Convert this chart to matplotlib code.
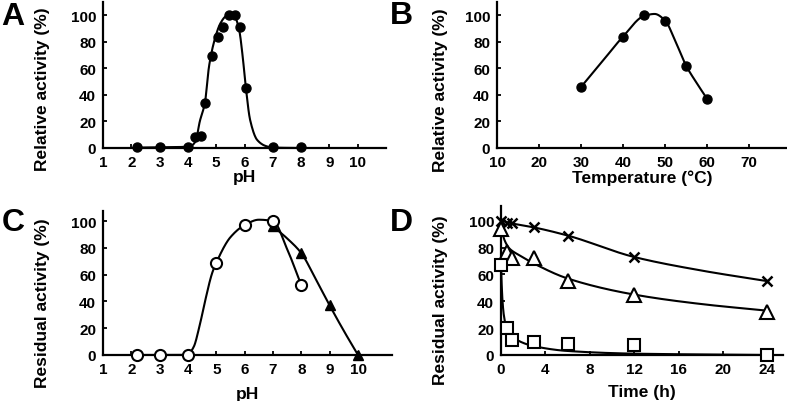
import numpy as np
import matplotlib
matplotlib.use("Agg")
import matplotlib.pyplot as plt

plt.rcParams['font.family'] = ['Liberation Sans', 'DejaVu Sans']
plt.rcParams['font.weight'] = 'bold'

# --- A: pH profile (relative activity) ---
a_ph = [2.2, 3, 4, 4.25, 4.45, 4.6, 4.85, 5.05, 5.25, 5.45, 5.65, 5.85, 6.05, 7, 8]
a_act = [0.5, 0.5, 0.5, 8, 9, 34, 69, 84, 91, 100.5, 100, 91, 45, 0.5, 0.5]
a_fit_x = [2.2, 3, 3.8, 4.1, 4.27, 4.42, 4.6, 4.75, 4.95, 5.15, 5.35, 5.52, 5.68, 5.82, 5.93, 6.05, 6.2, 6.45, 6.75, 7.0, 8.0]
a_fit_y = [0.3, 0.5, 0.8, 1.5, 5, 20, 34, 62, 82, 94, 99.5, 101, 98, 88, 70, 45, 21, 6, 1.5, 0.3, 0]

# --- B: temperature profile ---
b_temp = [30, 40, 45, 50, 55, 60]
b_act = [46, 84, 100, 95.5, 62, 37]
b_fit_x = [30, 35, 40, 45, 47.5, 50, 52.5, 55, 57.5, 60]
b_fit_y = [46, 65, 84, 99.5, 101, 96, 80, 62, 49, 37]

# --- C: pH stability (residual activity) ---
c_ph_open = [2.2, 3, 4, 5, 6, 7, 8]
c_res_open = [0, 0, 0, 69, 97, 100, 52]
c_ph_tri = [7, 8, 9, 10]
c_res_tri = [96, 76, 37, 0]
c_fit_x = [2.2, 3, 3.8, 4.0, 4.2, 4.4, 4.6, 4.85, 5.0, 5.5, 6.0, 6.5, 7.0, 7.5, 8.0]
c_fit_y = [0, 0, 0, 0.5, 6, 21, 40, 61, 69, 88, 97, 101, 100, 79, 52]
c_tri_fit_x = [7, 7.5, 8, 8.5, 9, 9.5, 10]
c_tri_fit_y = [96, 87, 76, 57, 37, 18, 0]

# --- D: thermal stability over time ---
d_time = [0, 0.5, 1, 3, 6, 12, 24]
d_cross = [100, 98, 98, 95.5, 89, 73, 55.5]
d_tri = [94, 77, 72, 72.5, 55.5, 45, 32]
d_sq = [67, 20, 11, 10, 8.5, 7.5, 0]
d_cross_fit_x = [0, 1, 3, 6, 12, 18, 24]
d_cross_fit_y = [100, 98, 95, 89, 73, 63, 55]
d_tri_fit_x = [0, 0.15, 0.4, 0.8, 1.5, 3, 6, 12, 18, 24]
d_tri_fit_y = [97, 90, 84, 79, 75, 68, 57, 45, 38, 33]
d_sq_fit_x = [0, 0.1, 0.25, 0.5, 1, 2, 3, 6, 12, 24]
d_sq_fit_y = [67, 45, 30, 20, 14, 9, 6.5, 3, 1, 0]


def pchip(x, y, n=400):
    x = np.asarray(x, float); y = np.asarray(y, float)
    h = np.diff(x); d = np.diff(y) / h
    m = np.zeros_like(y)
    m[0], m[-1] = d[0], d[-1]
    for k in range(1, len(x) - 1):
        if d[k - 1] * d[k] > 0:
            w1 = 2 * h[k] + h[k - 1]; w2 = h[k] + 2 * h[k - 1]
            m[k] = (w1 + w2) / (w1 / d[k - 1] + w2 / d[k])
    xs = np.linspace(x[0], x[-1], n)
    i = np.clip(np.searchsorted(x, xs) - 1, 0, len(x) - 2)
    t = (xs - x[i]) / h[i]
    h00 = 2*t**3 - 3*t**2 + 1; h10 = t**3 - 2*t**2 + t
    h01 = -2*t**3 + 3*t**2; h11 = t**3 - t**2
    ys = h00*y[i] + h10*h[i]*m[i] + h01*y[i+1] + h11*h[i]*m[i+1]
    return xs, ys


def style(ax, xlim, xticks, ylim):
    ax.set_xlim(*xlim); ax.set_ylim(*ylim)
    ax.set_xticks(xticks); ax.set_yticks([0, 20, 40, 60, 80, 100])
    for s in ['top', 'right']:
        ax.spines[s].set_visible(False)
    for s in ['left', 'bottom']:
        ax.spines[s].set_linewidth(1.6)
    ax.tick_params(direction='in', length=3, width=1.3, labelsize=11)
    ax.tick_params(axis='x', pad=5)
    ax.tick_params(axis='y', pad=5)
    for lab in ax.get_xticklabels() + ax.get_yticklabels():
        lab.set_fontweight('bold')


fig = plt.figure(figsize=(7.87, 4.02), dpi=100)
W, H = 787, 402
def box(l, t, r, b):
    return [l / W, (H - b) / H, (r - l) / W, (b - t) / H]

axA = fig.add_axes(box(103, 3, 386, 149))
axB = fig.add_axes(box(497, 3, 787, 149))
axC = fig.add_axes(box(103, 212, 392, 356))
axD = fig.add_axes(box(501, 207, 783, 356))

lw = 1.5
lab_fs = 12.5
# A
axA.plot(*pchip(a_fit_x, a_fit_y), color='black', lw=lw)
axA.plot(a_ph, a_act, 'o', color='black', ms=6.5, clip_on=False)
style(axA, (1, 11), range(1, 11), (0, 110))
axA.set_xlabel('pH', fontsize=lab_fs, fontweight='bold', labelpad=0)
axA.set_ylabel('Relative activity (%)', fontsize=lab_fs, fontweight='bold')
axA.yaxis.set_label_coords(-0.187, 0.41)

# B
axB.plot(*pchip(b_fit_x, b_fit_y), color='black', lw=lw)
axB.plot(b_temp, b_act, 'o', color='black', ms=6.5, clip_on=False)
style(axB, (10, 79), range(10, 80, 10), (0, 110))
axB.set_xlabel('Temperature (°C)', fontsize=lab_fs, fontweight='bold', labelpad=0)
axB.set_ylabel('Relative activity (%)', fontsize=lab_fs, fontweight='bold')
axB.yaxis.set_label_coords(-0.169, 0.40)

# C
axC.plot(*pchip(c_fit_x, c_fit_y), color='black', lw=lw)
axC.plot(*pchip(c_tri_fit_x, c_tri_fit_y), color='black', lw=lw)
axC.plot(c_ph_tri, c_res_tri, '^', color='black', ms=7, clip_on=False, zorder=3)
axC.plot(c_ph_open, c_res_open, 'o', mfc='white', mec='black', mew=1.5, ms=8, clip_on=False, zorder=4)
style(axC, (1, 11.2), range(1, 11), (0, 107.5))
axC.set_xlabel('pH', fontsize=lab_fs, fontweight='bold', labelpad=7)
axC.set_ylabel('Residual activity (%)', fontsize=lab_fs, fontweight='bold')
axC.yaxis.set_label_coords(-0.183, 0.37)

# D
axD.plot(*pchip(d_cross_fit_x, d_cross_fit_y), color='black', lw=lw)
axD.plot(*pchip(d_tri_fit_x, d_tri_fit_y), color='black', lw=lw)
axD.plot(*pchip(d_sq_fit_x, d_sq_fit_y), color='black', lw=lw)
axD.plot(d_time, d_cross, 'x', color='black', ms=7, mew=1.8, clip_on=False, zorder=4)
axD.plot(d_time, d_tri, '^', mfc='white', mec='black', mew=1.5, ms=10.5, clip_on=False, zorder=4)
axD.plot(d_time, d_sq, 's', mfc='white', mec='black', mew=1.5, ms=9, clip_on=False, zorder=4)
style(axD, (0, 25.4), range(0, 25, 4), (0, 111))
axD.set_xlabel('Time (h)', fontsize=lab_fs, fontweight='bold', labelpad=6)
axD.set_ylabel('Residual activity (%)', fontsize=lab_fs, fontweight='bold')
axD.yaxis.set_label_coords(-0.188, 0.376)

for letter, (px, py) in zip('ABCD', [(13, 17), (401, 16), (13, 223), (401, 223)]):
    fig.text(px / W, 1 - py / H, letter, fontsize=23, fontweight='bold',
             ha='center', va='center')

fig.savefig('out.png', dpi=100)
